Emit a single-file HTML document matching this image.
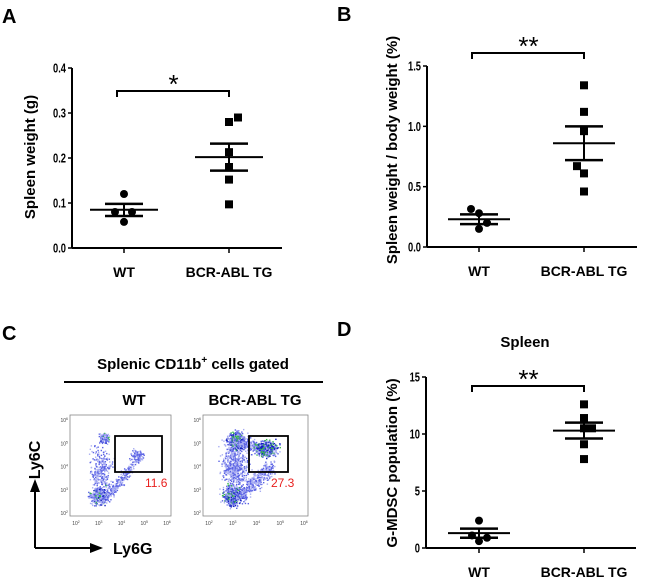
<!DOCTYPE html>
<html><head><meta charset="utf-8"><style>
html,body{margin:0;padding:0;background:#fff;}
svg{display:block;font-family:"Liberation Sans",Arial,sans-serif;}
.b{font-weight:bold;}
</style></head><body>
<svg id="fig" width="650" height="584" viewBox="0 0 650 584"></svg>
<script>
// Panel A data
const catsA = ["WT","BCR-ABL TG"];
const wtA = [0.12,0.08,0.08,0.058];
const tgA = [0.28,0.29,0.213,0.18,0.152,0.097];
const statsA = [[0.085,0.098,0.071],[0.202,0.232,0.172]];
const ticksA = ["0.0","0.1","0.2","0.3","0.4"];
// Panel B data
const wtB = [0.315,0.28,0.2,0.15];
const tgB = [1.34,1.12,0.96,0.67,0.61,0.46];
const statsB = [[0.23,0.27,0.19],[0.86,1.0,0.72]];
const ticksB = ["0.0","0.5","1.0","1.5"];
// Panel D data
const wtD = [2.4,1.1,0.9,0.6];
const tgD = [12.6,11.4,10.5,10.5,9.1,7.8];
const statsD = [[1.3,1.7,0.9],[10.3,11.0,9.6]];
const ticksD = ["0","5","10","15"];
// Panel C data
const gateValues = ["11.6","27.3"];

const NS="http://www.w3.org/2000/svg";
const svg=document.getElementById('fig');
function mk(tag,attrs,parent,txt){const e=document.createElementNS(NS,tag);for(const k in attrs)e.setAttribute(k,attrs[k]);if(txt!==undefined)e.textContent=txt;(parent||svg).appendChild(e);return e;}

function dotPlot(o){
  const g=mk('g',{});
  
  
  const y=v=>o.y0-(v-o.vmin)/(o.vmax-o.vmin)*(o.y0-o.y1);
  const xs=[o.xWT,o.xTG];
  const ya=mk('line',{x1:o.ax,y1:o.y1,x2:o.ax,y2:o.y0,stroke:'#000','stroke-width':2},g);
  
  
  const xa=mk('line',{x1:o.ax,y1:o.y0,x2:o.axEnd,y2:o.y0,stroke:'#000','stroke-width':2},g);
  
  
  o.ticks.forEach(t=>{
    const v=parseFloat(t);const yy=y(v);
    mk('line',{x1:o.ax-4,y1:yy,x2:o.ax,y2:yy,stroke:'#000','stroke-width':1.5},g);
    const tg=mk('g',{transform:`translate(${o.ax-6},${yy+4.5}) scale(0.72,1)`},g);
    const tl=mk('text',{x:0,y:0,'text-anchor':'end','font-size':13,'class':'b'},tg,t);
    
    
  });
  xs.forEach((x,i)=>{
    mk('line',{x1:x,y1:o.y0,x2:x,y2:o.y0+5,stroke:'#000','stroke-width':1.5},g);
    const xl=mk('text',{x:x,y:o.y0+29,'text-anchor':'middle','font-size':14,'class':'b'},g,catsA[i]);
    
    
  });
  o.wt.forEach((v,i)=>{
    const c=mk('circle',{cx:o.xWT+o.wtOff[i],cy:y(v),r:4,fill:'#000'},g);
    
    
  });
  o.tg.forEach((v,i)=>{
    const r=mk('rect',{x:o.xTG+o.tgOff[i]-4,y:y(v)-4,width:8,height:8,fill:'#000'},g);
    
    
  });
  o.stats.forEach((s,i)=>{
    const x=xs[i];
    const m=mk('line',{x1:x-o.mw,y1:y(s[0]),x2:x+o.mw,y2:y(s[0]),stroke:'#000','stroke-width':2},g);
    
    
    mk('line',{x1:x,y1:y(s[1]),x2:x,y2:y(s[2]),stroke:'#000','stroke-width':2},g);
    [s[1],s[2]].forEach(v=>{
      const e=mk('line',{x1:x-o.sw,y1:y(v),x2:x+o.sw,y2:y(v),stroke:'#000','stroke-width':2.5},g);
      
      
    });
  });
  const br=mk('path',{d:`M${o.xWT-7},${o.by+6} V${o.by} H${o.xTG} V${o.by+6}`,fill:'none',stroke:'#000','stroke-width':2},g);
  
  
  const st=mk('text',{x:(o.xWT+o.xTG)/2-3,y:o.by+2,'text-anchor':'middle','font-size':26},g,o.stars);
  
  
  const yt=mk('text',{x:0,y:0,'text-anchor':'middle','font-size':15,'class':'b',transform:`translate(${o.tx},${o.ty}) rotate(-90)`},g,o.title);
  
  
}

function letter(t,x,y){const e=mk('text',{x:x,y:y,'font-size':20,'class':'b'},svg,t);}
letter('A',2,23);letter('B',337,21);letter('C',2,340);letter('D',337,336);

dotPlot({name:'panel-a-chart',ax:72,axEnd:282,y0:248,y1:68,vmin:0,vmax:0.4,xWT:124,xTG:229,
  wt:wtA,tg:tgA,stats:statsA,ticks:ticksA,wtOff:[0,-9,8,0],tgOff:[0,9,0,0,0,0],mw:34,sw:19,by:91,stars:'*',
  title:'Spleen weight (g)',tx:35,ty:157});
dotPlot({name:'panel-b-chart',ax:427,axEnd:637,y0:247,y1:66,vmin:0,vmax:1.5,xWT:479,xTG:584,
  wt:wtB,tg:tgB,stats:statsB,ticks:ticksB,wtOff:[-8,0,8,0],tgOff:[0,0,0,-7,0,0],mw:31,sw:19,by:53,stars:'**',
  title:'Spleen weight / body weight (%)',tx:397,ty:150});
dotPlot({name:'panel-d-chart',ax:426,axEnd:636,y0:548,y1:377,vmin:0,vmax:15,xWT:479,xTG:584,
  wt:wtD,tg:tgD,stats:statsD,ticks:ticksD,wtOff:[0,-7,8,0],tgOff:[0,0,0,8,0,0],mw:31,sw:19,by:386,stars:'**',
  title:'G-MDSC population (%)',tx:397,ty:463});
{const e=mk('text',{x:525,y:347,'text-anchor':'middle','font-size':15,'class':'b'},svg,'Spleen');}

{const t=mk('text',{x:193,y:369,'text-anchor':'middle','font-size':15,'class':'b'},svg);


t.innerHTML='Splenic CD11b<tspan font-size="10" dy="-6">+</tspan><tspan dy="6"> cells gated</tspan>';}
mk('line',{x1:64,y1:382,x2:323,y2:382,stroke:'#000','stroke-width':2});
{const a=mk('text',{x:134,y:405,'text-anchor':'middle','font-size':15,'class':'b'},svg,'WT');
 const b=mk('text',{x:255,y:405,'text-anchor':'middle','font-size':15,'class':'b'},svg,'BCR-ABL TG');}

let seed=7;function rnd(){seed=(seed*16807)%2147483647;return seed/2147483647;}
function gauss(){return (rnd()+rnd()+rnd()+rnd()-2);}
function flow(x0,x1,y0,y1,gx0,gx1,gy0,gy1,clusters,val,name){
  const g=mk('g',{});
  
  
  const w=x1-x0,h=y1-y0;
  clusters.forEach(c=>{
    for(let i=0;i<c.n;i++){
      let fx,fy;
      if(c.line){const t=rnd();fx=c.ax+(c.bx-c.ax)*t+gauss()*c.s;fy=c.ay+(c.by-c.ay)*t+gauss()*c.s;}
      else{fx=c.x+gauss()*c.sx;fy=c.y+gauss()*c.sy;}
      if(fx<0.01||fx>0.99||fy<0.01||fy>0.99)continue;
      const dd=Math.abs(gauss());
      const d=c.dense&&rnd()<c.dense;
      mk('rect',{x:x0+fx*w,y:y0+fy*h,width:1.4,height:1.4,fill:d?(rnd()<0.45?'#36b84a':'#1420c0'):(rnd()<0.5?'#5a62e4':'#a9aef2')},g);
    }
  });
  mk('rect',{x:x0,y:y0,width:w,height:h,fill:'none',stroke:'#888','stroke-width':0.8},g);
  ['2','3','4','5','6'].forEach((d,i)=>{
    const xx=x0+6+i*(w-10)/4;
    const t1=mk('text',{x:xx,y:y1+9,'text-anchor':'middle','font-size':5,fill:'#444'},g);
    t1.innerHTML='10<tspan dy="-2" font-size="3.5">'+d+'</tspan>';
    const yy=y1-3-i*(h-8)/4;
    const t2=mk('text',{x:x0-2,y:yy+2,'text-anchor':'end','font-size':5,fill:'#444'},g);
    t2.innerHTML='10<tspan dy="-2" font-size="3.5">'+d+'</tspan>';
  });
  const gate=mk('rect',{x:gx0,y:gy0,width:gx1-gx0,height:gy1-gy0,fill:'none',stroke:'#000','stroke-width':1.8},g);
  
  
  const v=mk('text',{x:gx1-17,y:gy1+15,'font-size':12,fill:'#e8201e'},g,val);
  
  
}
flow(70,171,415,516,115,162,436,472,[
  {x:0.3,y:0.55,sx:0.08,sy:0.2,n:300},
  {x:0.34,y:0.22,sx:0.04,sy:0.05,n:90,dense:0.2},
  {x:0.28,y:0.8,sx:0.07,sy:0.07,n:350,dense:0.25},
  {line:true,ax:0.35,ay:0.82,bx:0.62,by:0.5,s:0.04,n:220},
  {x:0.66,y:0.4,sx:0.05,sy:0.05,n:120}
],gateValues[0],'wt-flow-plot');
flow(203,308,415,516,249,288,436,472,[
  {x:0.3,y:0.5,sx:0.1,sy:0.22,n:600},
  {x:0.32,y:0.25,sx:0.07,sy:0.07,n:400,dense:0.35},
  {x:0.28,y:0.8,sx:0.07,sy:0.08,n:450,dense:0.35},
  {line:true,ax:0.35,ay:0.8,bx:0.65,by:0.5,s:0.06,n:350},
  {line:true,ax:0.35,ay:0.27,bx:0.6,by:0.33,s:0.05,n:200},
  {x:0.6,y:0.33,sx:0.08,sy:0.06,n:500,dense:0.45}
],gateValues[1],'tg-flow-plot');

mk('line',{x1:35,y1:548,x2:35,y2:490,stroke:'#000','stroke-width':2});
mk('polygon',{points:'30,492 40,492 35,479',fill:'#000'});
mk('line',{x1:35,y1:548,x2:92,y2:548,stroke:'#000','stroke-width':2});
mk('polygon',{points:'90,543 90,553 103,548',fill:'#000'});
{const a=mk('text',{x:0,y:0,'text-anchor':'middle','font-size':16,'class':'b',transform:'translate(40,460) rotate(-90)'},svg,'Ly6C');
 const b=mk('text',{x:113,y:554,'font-size':16,'class':'b'},svg,'Ly6G');}
</script>
</body></html>
